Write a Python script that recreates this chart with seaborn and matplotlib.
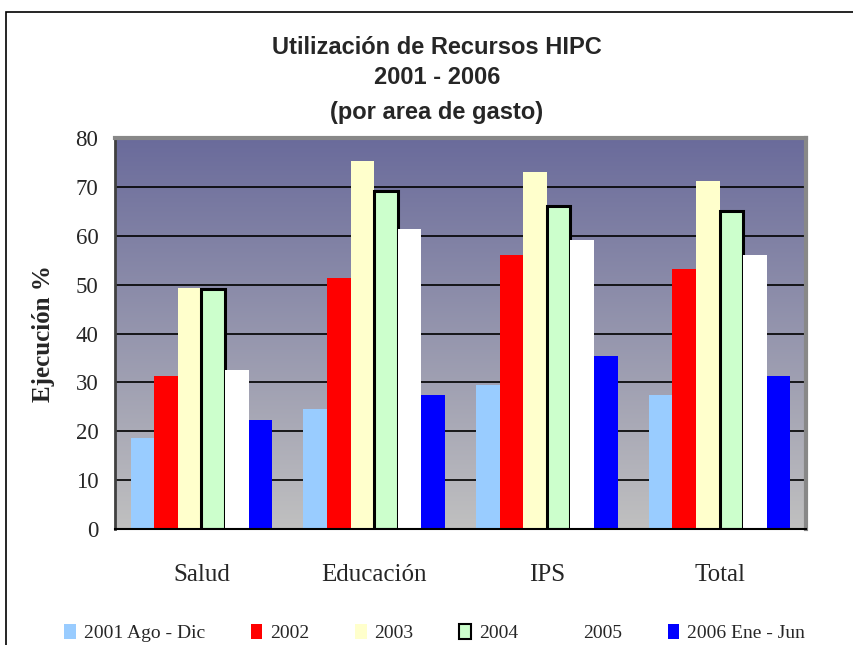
import numpy as np
import pandas as pd
import matplotlib
matplotlib.use("Agg")
import matplotlib.pyplot as plt
import seaborn as sns
from matplotlib.colors import LinearSegmentedColormap
from matplotlib.patches import Patch, Rectangle

# datos (Ejecucion %)
areas = ["Salud", "Educación", "IPS", "Total"]
periodos = ["2001 Ago - Dic", "2002", "2003", "2004", "2005", "2006 Ene - Jun"]
v2001 = [18.6, 24.5, 29.4, 27.5]
v2002 = [31.3, 51.3, 56.0, 53.2]
v2003 = [49.3, 75.3, 73.1, 71.2]
v2004 = [49.1, 69.1, 66.0, 65.0]
v2005 = [32.5, 61.3, 59.2, 56.0]
v2006 = [22.2, 27.5, 35.4, 31.3]
colores = ["#99ccff", "#ff0000", "#ffffcc", "#ccffcc", "#ffffff", "#0000ff"]
titulo = ["Utilización de Recursos HIPC", "2001 - 2006", "(por area de gasto)"]

df = pd.DataFrame({
    "area": areas * 6,
    "periodo": np.repeat(periodos, len(areas)),
    "valor": v2001 + v2002 + v2003 + v2004 + v2005 + v2006,
})

sns.set_style("white")
plt.rcParams["font.family"] = ["Liberation Serif", "DejaVu Serif"]

fig = plt.figure(figsize=(8.54, 6.45), dpi=100)
ax = fig.add_axes([115 / 854, 1 - 529 / 645, 691 / 854, 391 / 645])

# fondo degradado del area de trazado
grad = np.linspace(0, 1, 256).reshape(-1, 1)
cmap = LinearSegmentedColormap.from_list("fondo", ["#6a6b9b", "#c0c0c0"])
ax.imshow(grad, extent=[-0.5, 3.5, 0, 80], aspect="auto", cmap=cmap, zorder=0.1)

sns.barplot(data=df, x="area", y="valor", hue="periodo", order=areas,
            hue_order=periodos, palette=colores, width=0.82, gap=0,
            saturation=1, linewidth=0, legend=False, ax=ax, zorder=2)

for p in ax.containers[3]:
    p.set_edgecolor("black")
    p.set_linewidth(2.2)

ax.set_xlim(-0.5, 3.5)
ax.set_ylim(0, 80)
ax.set_axisbelow(True)
ax.set_yticks(range(0, 81, 10))
ax.yaxis.grid(True, color="black", lw=1.2)
ax.xaxis.grid(False)

ax.set_xticks(np.arange(-0.5, 3.6, 1), minor=True)
ax.tick_params(axis="x", which="major", length=0, pad=25, labelsize=18)
ax.tick_params(axis="x", which="minor", length=8, width=1.2, color="black", direction="out")
ax.tick_params(axis="y", length=8, width=1.2, color="black", direction="out", labelsize=16.5, pad=4)
ax.set_xlabel("")

ax.set_ylabel("Ejecución %", fontsize=18, fontweight="bold")
ax.yaxis.set_label_coords(-0.087, 0.5)

for s in ["top", "right"]:
    ax.spines[s].set_color("#888888")
    ax.spines[s].set_linewidth(3)
ax.spines["left"].set_color("#404040")
ax.spines["left"].set_linewidth(2)
ax.spines["bottom"].set_color("black")
ax.spines["bottom"].set_linewidth(1.5)

for texto, ypix in zip(titulo, [47, 78, 113]):
    fig.text(437 / 854, 1 - ypix / 645, texto, ha="center", va="center",
             fontsize=17, fontweight="bold", family=["Liberation Sans", "DejaVu Sans"])

handles = [Patch(facecolor=c, edgecolor="black" if per == "2004" else "none", lw=1.5)
           for c, per in zip(colores, periodos)]
fig.legend(handles, periodos, loc="center", bbox_to_anchor=(0.509, 1 - 633 / 645),
           ncol=6, frameon=False, fontsize=14, handlelength=0.6, handleheight=0.8,
           handletextpad=0.4, columnspacing=2.35)

# marco exterior del grafico
fig.add_artist(Rectangle((6 / 854, -0.1), 1.2, (1 - 12 / 645) + 0.1,
                         transform=fig.transFigure, fill=False, ec="black", lw=1.2))

plt.savefig("out.png", dpi=100)
